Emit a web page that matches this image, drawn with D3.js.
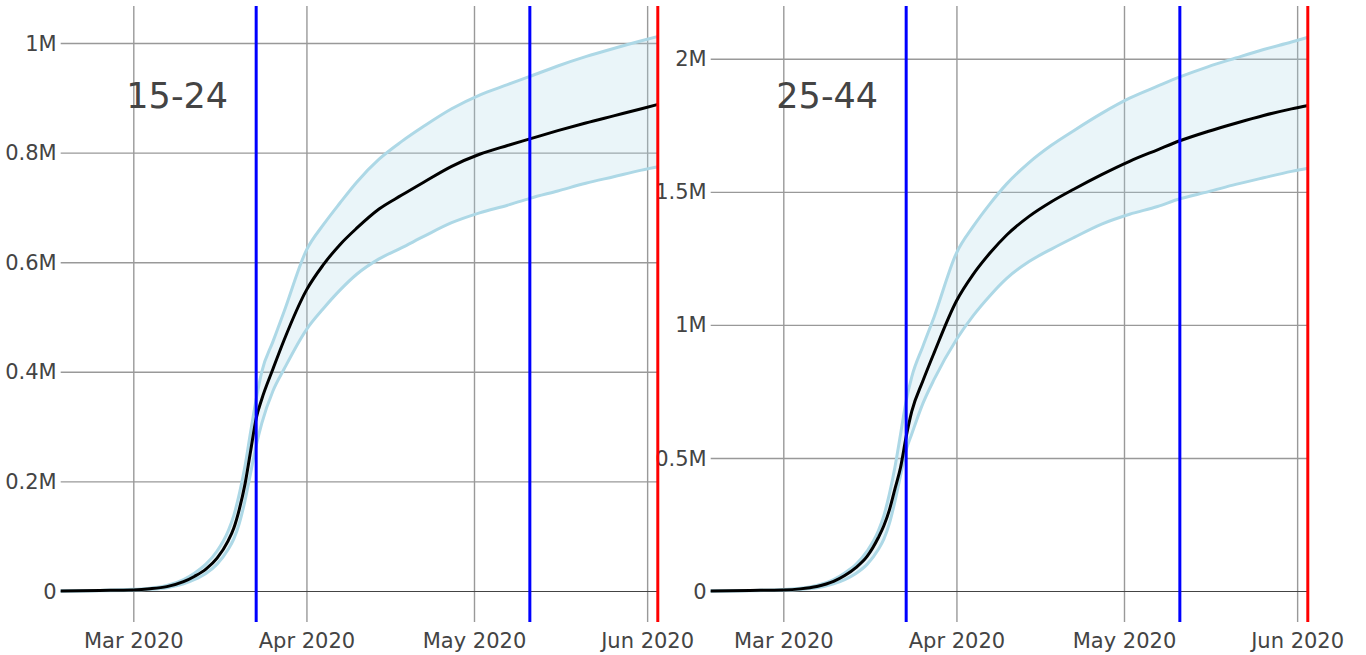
<!DOCTYPE html>
<html>
<head>
<meta charset="utf-8">
<script src="https://cdn.jsdelivr.net/npm/d3@7"></script>
<style>
  html, body { margin: 0; padding: 0; background: #fff; }
  svg { display: block; }
  text { font-family: "DejaVu Sans", Verdana, sans-serif; }
</style>
</head>
<body>
<svg id="chart" width="1366" height="655"></svg>
<script>
// ---------------- DATA ----------------
const dates = ["2020-02-17","2020-02-24","2020-03-01","2020-03-04","2020-03-07","2020-03-10","2020-03-12",
  "2020-03-14","2020-03-16","2020-03-18","2020-03-19","2020-03-20","2020-03-21","2020-03-22","2020-03-23",
  "2020-03-24","2020-03-26","2020-03-28","2020-04-01","2020-04-04","2020-04-07","2020-04-10","2020-04-14",
  "2020-04-18","2020-04-22","2020-04-27","2020-05-02","2020-05-07","2020-05-11","2020-05-16","2020-05-21",
  "2020-05-26","2020-05-31","2020-06-03"];

// age group 15-24 (millions)
const median15 = [0, 0.001, 0.002, 0.004, 0.008, 0.017, 0.027, 0.040, 0.060, 0.092, 0.115, 0.150, 0.195, 0.255, 0.315,
  0.350, 0.405, 0.458, 0.549, 0.595, 0.632, 0.662, 0.697, 0.722, 0.746, 0.775, 0.797, 0.813, 0.825, 0.840, 0.854,
  0.867, 0.880, 0.888];
const upper15 = [0, 0.001, 0.003, 0.005, 0.010, 0.021, 0.033, 0.049, 0.073, 0.110, 0.138, 0.178, 0.228, 0.290, 0.350,
  0.400, 0.455, 0.510, 0.622, 0.668, 0.708, 0.746, 0.788, 0.820, 0.848, 0.880, 0.905, 0.924, 0.939, 0.958, 0.975,
  0.990, 1.004, 1.012];
const lower15 = [0, 0.0005, 0.0015, 0.003, 0.006, 0.013, 0.021, 0.032, 0.049, 0.076, 0.095, 0.124, 0.165, 0.215, 0.265,
  0.306, 0.365, 0.405, 0.477, 0.515, 0.549, 0.578, 0.606, 0.626, 0.647, 0.672, 0.690, 0.704, 0.7165, 0.730, 0.744,
  0.756, 0.768, 0.774];

// age group 25-44 (millions)
const median25 = [0, 0.002, 0.004, 0.008, 0.017, 0.036, 0.058, 0.088, 0.130, 0.200, 0.245, 0.305, 0.385, 0.465, 0.580,
  0.675, 0.790, 0.895, 1.090, 1.190, 1.270, 1.338, 1.408, 1.463, 1.510, 1.565, 1.615, 1.658, 1.692, 1.727, 1.758,
  1.787, 1.812, 1.825];
const upper25 = [0, 0.002, 0.006, 0.010, 0.021, 0.043, 0.068, 0.100, 0.150, 0.225, 0.283, 0.365, 0.467, 0.590, 0.715,
  0.805, 0.920, 1.030, 1.270, 1.370, 1.455, 1.530, 1.610, 1.675, 1.730, 1.795, 1.852, 1.897, 1.932, 1.970, 2.003,
  2.035, 2.063, 2.081];
const lower25 = [0, 0.001, 0.003, 0.006, 0.012, 0.027, 0.043, 0.066, 0.100, 0.156, 0.195, 0.254, 0.338, 0.435, 0.530,
  0.590, 0.705, 0.795, 0.945, 1.035, 1.110, 1.175, 1.238, 1.285, 1.328, 1.379, 1.416, 1.445, 1.474, 1.500, 1.528,
  1.553, 1.577, 1.589];

const panelTitles = ["15-24", "25-44"];
const policyDates = ["2020-03-23", "2020-05-11"];   // blue lines
const endDate = "2020-06-03";                        // red line
const xTickDates = ["2020-03-01","2020-04-01","2020-05-01","2020-06-01"];
const xTickLabels = ["Mar 2020","Apr 2020","May 2020","Jun 2020"];
const yTicks15 = [0, 0.2, 0.4, 0.6, 0.8, 1];
const yTickLabels15 = ["0","0.2M","0.4M","0.6M","0.8M","1M"];
const yTicks25 = [0, 0.5, 1, 1.5, 2];
const yTickLabels25 = ["0","0.5M","1M","1.5M","2M"];

// ---------------- DRAW ----------------
const parse = d3.utcParse("%Y-%m-%d");
const svg = d3.select("#chart");
const plotTop = 6, plotBottom = 622;

const panels = [
  { left: 60.7, right: 658.3, yMax: 1.0675, yMin: -0.0566, med: median15, up: upper15, lo: lower15,
    ticks: yTicks15, labels: yTickLabels15, title: panelTitles[0] },
  { left: 710.7, right: 1308.3, yMax: 2.1985, yMin: -0.1165, med: median25, up: upper25, lo: lower25,
    ticks: yTicks25, labels: yTickLabels25, title: panelTitles[1] }
];

const gridLayer = svg.append("g");
const dataLayer = svg.append("g");
const labelLayer = svg.append("g");
const eventLayer = svg.append("g");

const dateObjs = dates.map(parse);

panels.forEach(p => {
  const x = d3.scaleUtc().domain([parse(dates[0]), parse(endDate)]).range([p.left, p.right]);
  const y = d3.scaleLinear().domain([p.yMin, p.yMax]).range([plotBottom, plotTop]);

  // vertical grid + x labels
  const xAxis = d3.axisBottom(x).tickValues(xTickDates.map(parse))
    .tickFormat((d, i) => xTickLabels[i]).tickSize(-(plotBottom - plotTop)).tickPadding(10);
  const gx = gridLayer.append("g").attr("transform", `translate(0,${plotBottom})`).call(xAxis);
  gx.select(".domain").remove();
  gx.selectAll(".tick line").attr("stroke", "#999").attr("stroke-width", 1.4);
  gx.selectAll(".tick text").attr("fill", "#444").style("font-size", "21px")
    .attr("y", 6).attr("dy", "0.95em");

  // horizontal grid
  const yAxis = d3.axisLeft(y).tickValues(p.ticks).tickFormat((d, i) => p.labels[i])
    .tickSize(-(p.right - p.left)).tickPadding(4);
  const gy = gridLayer.append("g").attr("transform", `translate(${p.left},0)`).call(yAxis);
  gy.select(".domain").remove();
  gy.selectAll(".tick line").attr("stroke", d => d === 0 ? "#444" : "#999")
    .attr("stroke-width", d => d === 0 ? 1.2 : 1.4);
  gy.selectAll(".tick text").remove();
  p.ticks.forEach((d, i) => {
    labelLayer.append("text")
      .attr("x", p.left - 4).attr("y", y(d)).attr("dy", "0.36em")
      .attr("text-anchor", "end").attr("fill", "#444").style("font-size", "21px")
      .text(p.labels[i]);
  });

  // band
  const area = d3.area().x((d, i) => x(dateObjs[i])).y0((d, i) => y(p.lo[i])).y1((d, i) => y(p.up[i]))
    .curve(d3.curveMonotoneX);
  dataLayer.append("path").datum(p.med).attr("d", area).attr("fill", "rgba(173,216,230,0.25)");
  const line = arr => d3.line().x((d, i) => x(dateObjs[i])).y(d => y(d)).curve(d3.curveMonotoneX)(arr);
  [p.up, p.lo].forEach(arr => {
    dataLayer.append("path").attr("d", line(arr)).attr("fill", "none")
      .attr("stroke", "#ADD8E6").attr("stroke-width", 3);
  });
  dataLayer.append("path").attr("d", line(p.med)).attr("fill", "none")
    .attr("stroke", "#000").attr("stroke-width", 3);

  // title annotation
  labelLayer.append("text").attr("x", p.left + 116.5).attr("y", 108)
    .attr("text-anchor", "middle").attr("fill", "#444").style("font-size", "35px").text(p.title);

  // event lines
  policyDates.forEach(dstr => {
    eventLayer.append("line").attr("x1", x(parse(dstr))).attr("x2", x(parse(dstr)))
      .attr("y1", plotTop).attr("y2", plotBottom).attr("stroke", "#0000FF").attr("stroke-width", 3);
  });
  eventLayer.append("line").attr("x1", x(parse(endDate)) - 0.5).attr("x2", x(parse(endDate)) - 0.5)
    .attr("y1", plotTop).attr("y2", plotBottom).attr("stroke", "#FF0000").attr("stroke-width", 3);
});
</script>
</body>
</html>
